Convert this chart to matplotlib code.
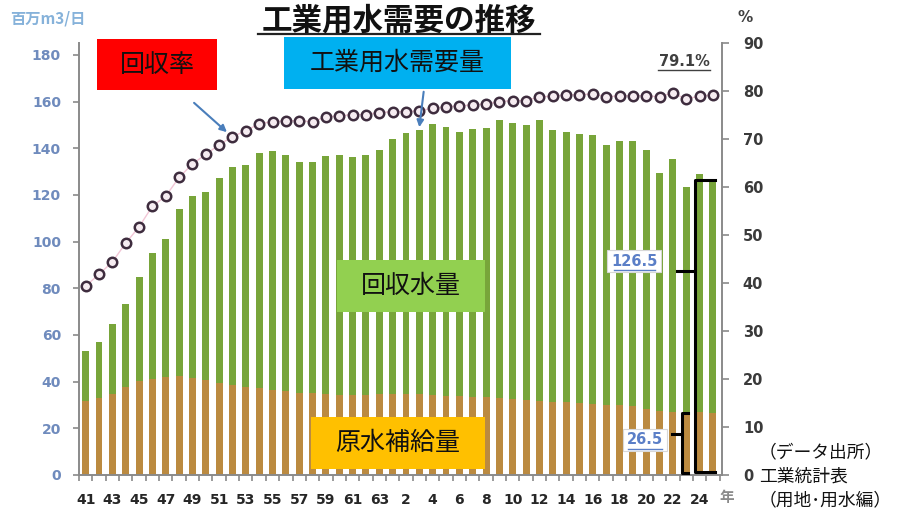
import matplotlib
matplotlib.use("Agg")
import matplotlib.pyplot as plt
from matplotlib.patches import Rectangle, FancyArrowPatch
from matplotlib.lines import Line2D
import numpy as np

JP = ['Noto Sans CJK JP', 'DejaVu Sans']
plt.rcParams['font.family'] = ['DejaVu Sans', 'Noto Sans CJK JP']

# Fiscal years: Showa 41-63, then Heisei 1-25
years = [str(y) for y in range(41, 64)] + [str(y) for y in range(1, 26)]

# Industrial water demand (million m3/day)
total_demand = [53.0, 57.1, 64.7, 73.3, 84.7, 95.0, 101.1, 113.9, 119.7, 121.1,
                127.3, 131.9, 132.9, 138.1, 139.0, 137.1, 134.3, 134.0, 136.7, 137.1,
                136.4, 137.1, 139.3, 144.1, 146.4, 148.0, 150.5, 149.3, 147.1, 148.1,
                148.6, 151.9, 151.0, 150.0, 151.9, 147.8, 147.1, 146.0, 145.7, 141.4,
                142.9, 143.1, 139.3, 129.6, 135.4, 123.3, 129.0, 126.5]
# Fresh water supply (million m3/day)
fresh_supply = [31.5, 32.8, 34.8, 37.5, 40.2, 41.0, 41.8, 42.3, 41.6, 40.5,
                39.6, 38.6, 37.9, 37.2, 36.6, 35.8, 35.3, 35.0, 34.6, 34.4,
                34.3, 34.4, 34.5, 34.9, 34.8, 34.6, 34.3, 34.0, 33.8, 33.6,
                33.3, 32.9, 32.6, 32.2, 31.9, 31.4, 31.1, 30.7, 30.4, 30.0,
                29.8, 29.4, 28.2, 27.3, 27.2, 26.6, 26.9, 26.5]
# Recovery rate (%)
recovery_rate = [39.4, 41.8, 44.4, 48.3, 51.7, 56.0, 58.1, 62.0, 64.8, 66.8,
                 68.8, 70.5, 71.7, 73.2, 73.6, 73.8, 73.8, 73.6, 74.6, 74.8,
                 75.1, 75.1, 75.5, 75.7, 75.7, 75.9, 76.4, 76.7, 76.9, 77.1,
                 77.3, 77.8, 78.0, 78.0, 78.8, 78.9, 79.2, 79.2, 79.4, 78.8,
                 79.0, 79.0, 79.0, 78.8, 79.6, 78.3, 79.0, 79.1]

total = np.array(total_demand)
fresh = np.array(fresh_supply)
recycled = total - fresh
x = np.arange(len(years))

W, H = 897, 514
fig = plt.figure(figsize=(W / 100, H / 100), dpi=100)
fig.patch.set_facecolor('white')


def fx(px):
    return px / W


def fy(py):
    return 1 - py / H


ax = fig.add_axes([fx(79), fy(475), fx(722) - fx(79), fy(43) - fy(475)])
ax2 = ax.twinx()

GREEN = '#78a53a'
BROWN = '#bb8a40'
GREY = '#8a8a8a'

ax.bar(x, fresh, width=0.52, color=BROWN, linewidth=0, zorder=2)
ax.bar(x, recycled, bottom=fresh, width=0.52, color=GREEN, linewidth=0, zorder=2)

ax2.plot(x, recovery_rate, color='#f2c6d6', lw=1.0, marker='o', ms=6.8,
         mfc='#f6ecf1', mec='#3e2c3e', mew=1.8, zorder=3)

ax.set_xlim(-0.45, len(years) - 0.32)
ax.set_ylim(0, 185.1)
ax2.set_ylim(0, 90)

for a in (ax, ax2):
    a.spines['top'].set_visible(False)
ax.spines['right'].set_visible(False)
ax2.spines['left'].set_visible(False)
ax2.spines['bottom'].set_visible(False)
for sp in (ax.spines['left'], ax.spines['bottom'], ax2.spines['right']):
    sp.set_color(GREY)
    sp.set_linewidth(1.4)

ax.set_yticks(range(0, 181, 20))
ax.tick_params(axis='y', length=4, width=1.2, color=GREY, pad=9,
               labelsize=10, labelcolor='#6f8bbd')
for t in ax.get_yticklabels():
    t.set_fontweight('bold')

ax2.set_yticks(range(0, 91, 10))
ax2.tick_params(axis='y', length=5, width=1.2, color=GREY, pad=10,
                labelsize=10.5, labelcolor='#3a3a3a')
for t in ax2.get_yticklabels():
    t.set_fontweight('bold')

ax.set_xticks(x[::2])
ax.set_xticklabels(years[::2], fontsize=10, fontweight='bold', color='#262626')
ax.set_xticks(np.arange(len(years) + 1) - 0.5, minor=True)
ax.tick_params(axis='x', which='major', length=0, pad=13)
ax.tick_params(axis='x', which='minor', length=4, width=1.2, color=GREY)

# Title
fig.text(fx(399), fy(20), '工業用水需要の推移', fontsize=22, fontweight='bold',
         family=JP, ha='center', va='center', color='#111111')
fig.add_artist(Line2D([fx(258), fx(540)], [fy(34), fy(34)], color='#222222', lw=1.6))

# Axis unit labels
fig.text(fx(10), fy(18), '百万m3/日', fontsize=11, fontweight='bold', family=JP,
         ha='left', va='center', color='#86b2da')
fig.text(fx(745), fy(17), '%', fontsize=11, fontweight='bold',
         ha='center', va='center', color='#404040')
fig.text(fx(727), fy(497), '年', fontsize=10.5, fontweight='bold', family=JP,
         ha='center', va='center', color='#8a8a8a')


def label_box(x0, y0, x1, y1, color, text):
    fig.add_artist(Rectangle((fx(x0), fy(y1)), fx(x1) - fx(x0), fy(y0) - fy(y1),
                             transform=fig.transFigure, facecolor=color,
                             edgecolor='none', zorder=5))
    fig.text(fx((x0 + x1) / 2), fy((y0 + y1) / 2), text, fontsize=18, family=JP,
             ha='center', va='center', color='#111111', zorder=6)


label_box(97, 39, 217, 90, '#ff0000', '回収率')
label_box(284, 37, 511, 89, '#00b0f0', '工業用水需要量')
label_box(337, 260, 485, 312, '#92d050', '回収水量')
label_box(311, 417, 485, 469, '#ffc000', '原水補給量')

# Pointer arrows from the boxes
for (xa, ya), (xb, yb) in [((192, 101), (229, 134)), ((424, 89), (419, 130))]:
    fig.add_artist(FancyArrowPatch((fx(xa), fy(ya)), (fx(xb), fy(yb)),
                                   transform=fig.transFigure, arrowstyle='-|>',
                                   mutation_scale=10, color='#4a7ebb', lw=1.5,
                                   zorder=7))

# Latest recovery rate
fig.text(fx(684), fy(62), f'{recovery_rate[-1]:.1f}%', fontsize=10.5,
         fontweight='bold', ha='center', va='center', color='#404040')
fig.add_artist(Line2D([fx(658), fx(710)], [fy(70), fy(70)], color='#404040', lw=1.0))

# Brackets for the latest year
last = len(years) - 1
bx = last - 1.34
ax.plot([last + 0.16, bx, bx, last + 0.16], [total[-1], total[-1], 1.3, 1.3],
        color='black', lw=2.2, solid_joinstyle='round', zorder=4, clip_on=False)
ax.plot([bx - 1.35, bx], [87.4, 87.4], color='black', lw=2.2, zorder=4)
sx = last - 2.31
ax.plot([sx + 0.44, sx, sx, sx + 0.44], [fresh[-1], fresh[-1], 0.9, 0.9],
        color='black', lw=2.2, solid_joinstyle='round', zorder=4)
ax.plot([sx - 0.75, sx], [17.6, 17.6], color='black', lw=2.2, zorder=4)

for val, cx, cy, x0, x1, uy in [(total[-1], 634, 261, 614, 655, 270),
                                (fresh[-1], 645, 440, 628, 662, 449)]:
    fig.text(fx(cx), fy(cy), f'{val:.1f}', fontsize=10.5, fontweight='bold',
             ha='center', va='center', color='#5b7fc7', zorder=8,
             bbox=dict(boxstyle='square,pad=0.25', facecolor='white',
                       edgecolor='#d8d8d8', lw=0.8))
    fig.add_artist(Line2D([fx(x0), fx(x1)], [fy(uy), fy(uy)], color='#5b7fc7',
                          lw=1.0, zorder=9))

# Data source
for txt, cy in [('（データ出所）', 452), ('工業統計表', 477), ('（用地･用水編）', 500)]:
    fig.text(fx(759), fy(cy), txt, fontsize=12.8, family=JP, ha='left', va='center',
             color='#111111')

fig.savefig('out.png', dpi=100, facecolor='white')
